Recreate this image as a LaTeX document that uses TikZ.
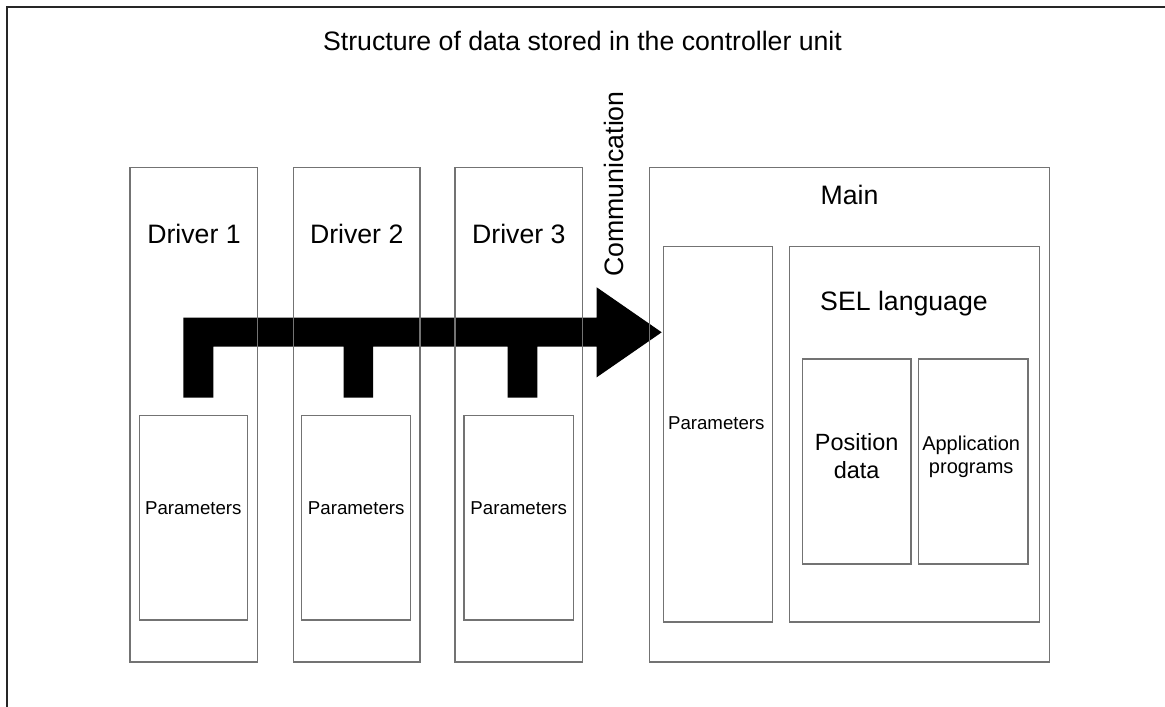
\documentclass[tikz,border=0pt]{standalone}
\usepackage{fontspec}
\setmainfont{Liberation Sans}
\usetikzlibrary{arrows.meta}

\begin{document}
\begin{tikzpicture}[x=0.75pt, y=-0.75pt,
    box/.style={draw=black!55, line width=0.95pt},
    bigtext/.style={font=\fontsize{20}{24}\selectfont, anchor=base},
    smalltext/.style={font=\fontsize{14}{17}\selectfont, anchor=base}]

    % parameters: box tops/bottoms in pixels of the reference
    \def\Top{167.3}
    \def\Bot{662}
    \def\PTop{415.3}
    \def\PBot{620}

    \useasboundingbox (0,0) rectangle (1165,707);

    % outer frame (only top and left edges show)
    \draw[line width=1.8pt, black!85] (6.7,707) -- (6.7,7) -- (1165,7);

    % communication arrow
    \fill[black] (183.3,317.7) -- (596.7,317.7) -- (596.7,287.3) -- (661.7,332.3)
        -- (596.7,377.3) -- (596.7,346.7) -- (537.3,346.7) -- (537.3,397.7)
        -- (507.7,397.7) -- (507.7,346.7) -- (373,346.7) -- (373,397.7)
        -- (343.7,397.7) -- (343.7,346.7) -- (213.3,346.7) -- (213.3,397.7)
        -- (183.3,397.7) -- cycle;

    % driver boxes
    \draw[box] (130,\Top) rectangle (257.7,\Bot);
    \draw[box] (293.3,\Top) rectangle (420,\Bot);
    \draw[box] (455,\Top) rectangle (582.7,\Bot);
    \draw[box] (139.3,\PTop) rectangle (247.3,\PBot);
    \draw[box] (301.7,\PTop) rectangle (410.7,\PBot);
    \draw[box] (464,\PTop) rectangle (573.3,\PBot);

    % main box
    \draw[box] (649.3,\Top) rectangle (1049.3,\Bot);
    \draw[box] (663.3,246.7) rectangle (772.3,622);
    \draw[box] (789.3,246.7) rectangle (1039.3,622);
    \draw[box] (802.3,359) rectangle (911,564);
    \draw[box] (918.3,359) rectangle (1028,564);

    % labels
    \node[bigtext] (title) at (582.5,50) {Structure of data stored in the controller unit};
    \node[bigtext] (drvA) at (194,243) {Driver 1};
    \node[bigtext] (drvB) at (356.7,243) {Driver 2};
    \node[bigtext] (drvC) at (518.8,243) {Driver 3};
    \node[bigtext, rotate=90] (comm) at (623,184) {Communication};
    \node[bigtext] (main) at (849.5,204) {Main};
    \node[bigtext] (sel) at (904,310) {SEL language};
    \node[smalltext] (parA) at (193.3,514.5) {Parameters};
    \node[smalltext] (parB) at (356.2,514.5) {Parameters};
    \node[smalltext] (parC) at (518.7,514.5) {Parameters};
    \node[smalltext] (parM) at (716.3,429.3) {Parameters};
    \node[font=\fontsize{17.6}{20.7}\selectfont, align=center, anchor=base] (pos)
        at (856.7,478.3) {Position\\data};
    \node[font=\fontsize{15}{17}\selectfont, align=center, anchor=base] (app)
        at (971.2,473.3) {Application\\programs};

\end{tikzpicture}
\end{document}
